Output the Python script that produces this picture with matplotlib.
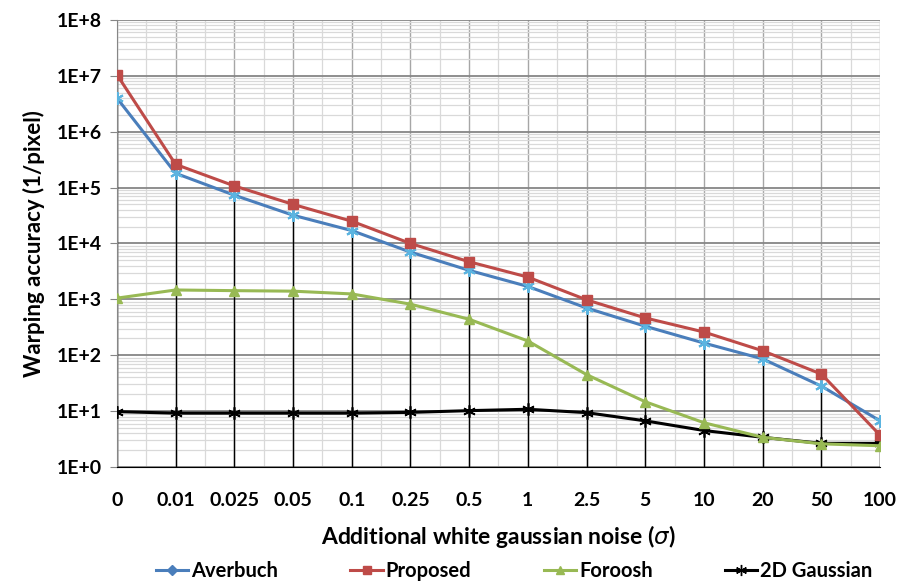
import numpy as np
import matplotlib.pyplot as plt
from matplotlib.lines import Line2D
from matplotlib.ticker import FixedLocator, NullFormatter

noise = ["0", "0.01", "0.025", "0.05", "0.1", "0.25", "0.5", "1", "2.5", "5", "10", "20", "50", "100"]

averbuch = [4.0e6, 1.8e5, 7.3e4, 3.2e4, 1.7e4, 7.0e3, 3.3e3, 1.7e3, 700, 330, 165, 86, 28, 6.7]
proposed = [1.05e7, 2.6e5, 1.07e5, 5.0e4, 2.5e4, 1.0e4, 4.7e3, 2.5e3, 980, 465, 260, 120, 46, 3.7]
foroosh = [1050, 1470, 1430, 1400, 1250, 820, 440, 180, 45, 14.7, 6.2, 3.4, 2.6, 2.4]
gauss2d = [9.8, 9.2, 9.2, 9.2, 9.2, 9.5, 10.2, 10.8, 9.4, 6.7, 4.5, 3.4, 2.65, 2.65]

c_blue = "#4A7EBB"
c_red = "#BE4B48"
c_green = "#98B954"

plt.rcParams['font.family'] = ['Lato', 'DejaVu Sans']

fig = plt.figure(figsize=(8.99, 5.84), dpi=100)
ax = fig.add_axes([0.130, 0.2003, 0.849, 0.7657])

x = np.arange(len(noise))

# grid
ax.set_yscale("log")
ax.set_ylim(1, 1e8)
ax.set_xlim(0, len(noise) - 1)
decades = 10.0 ** np.arange(9)
ax.set_yticks(decades)
ax.yaxis.set_minor_locator(FixedLocator([d * k for d in decades[:-1] for k in range(2, 10)]))
ax.yaxis.set_minor_formatter(NullFormatter())
ax.set_xticks(x)
ax.xaxis.set_minor_locator(FixedLocator(x[:-1] + 0.5))
ax.grid(which="major", axis="y", color="#868686", lw=1.3)
ax.grid(which="minor", axis="y", color="#D9D9D9", lw=0.9)
ax.grid(which="major", axis="x", color="#A6A6A6", lw=1.0)
ax.grid(which="minor", axis="x", color="#D9D9D9", lw=0.9)
ax.set_axisbelow(True)

# drop lines
tops = np.max(np.vstack([averbuch, proposed, foroosh, gauss2d]), axis=0)
ax.vlines(x, 1, tops, color="black", lw=1.0, zorder=1.5)

ax.plot(x, gauss2d, color="black", lw=2.2, marker=(6, 2, 0), ms=9, mew=1.2, zorder=3)
ax.plot(x, foroosh, color=c_green, lw=2.2, marker="^", ms=7, zorder=4)
ax.plot(x, averbuch, color=c_blue, lw=2.2, marker=(6, 2, 0), ms=9, mew=1.5,
        mec="#5BB4E0", zorder=5)
ax.plot(x, proposed, color=c_red, lw=2.2, marker="s", ms=7, zorder=6)

ax.set_yticklabels([f"1E+{i}" for i in range(9)])
ax.set_xticklabels(noise)
for lab in ax.get_xticklabels() + ax.get_yticklabels():
    lab.set_fontweight("bold")
    lab.set_fontsize(14)
ax.tick_params(axis="x", which="both", length=0, pad=18)
ax.tick_params(axis="y", which="major", length=5, color="#868686", pad=6)
ax.tick_params(axis="y", which="minor", length=0)

for s in ["top", "right"]:
    ax.spines[s].set_visible(False)
ax.spines["left"].set_color("#868686")
ax.spines["bottom"].set_color("black")

ax.set_xlabel("Additional white gaussian noise ($\\sigma$)", fontsize=16.5,
              fontweight="bold", labelpad=10)
ax.set_ylabel("Warping accuracy (1/pixel)", fontsize=16, fontweight="bold", labelpad=8)

handles = [
    Line2D([], [], color=c_blue, lw=2.2, marker="D", ms=5),
    Line2D([], [], color=c_red, lw=2.2, marker="s", ms=6),
    Line2D([], [], color=c_green, lw=2.2, marker="^", ms=6),
    Line2D([], [], color="black", lw=2.2, marker=(6, 2, 0), ms=8),
]
fig.legend(handles, ["Averbuch", "Proposed", "Foroosh", "2D Gaussian"],
           loc="center", bbox_to_anchor=(0.572, 0.022), ncol=4, frameon=False,
           prop={"weight": "bold", "size": 14.5}, columnspacing=3.6,
           handlelength=1.6, handletextpad=0.15, borderpad=0.1)

fig.savefig("out.png", dpi=100)
